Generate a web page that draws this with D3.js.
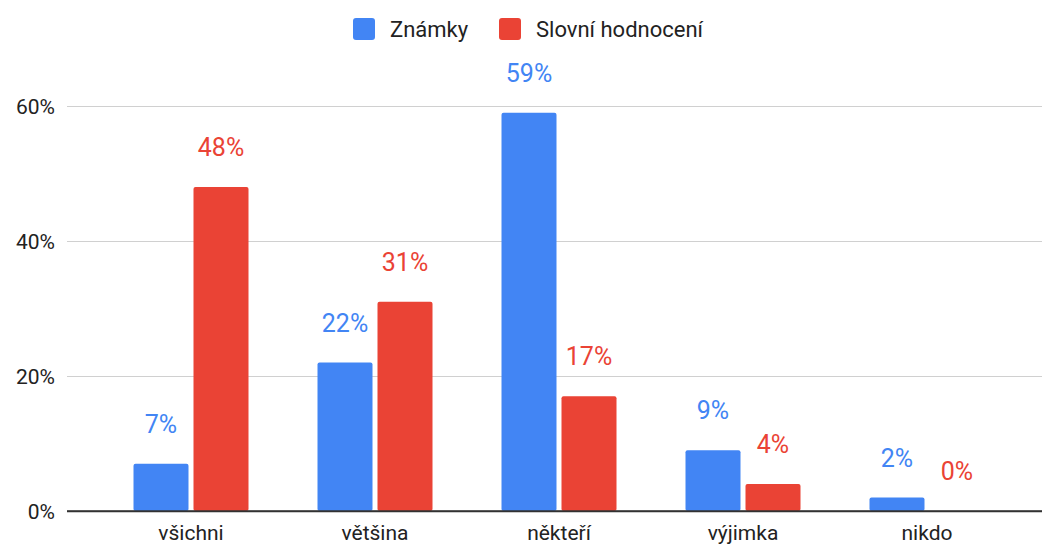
<!DOCTYPE html>
<html lang="cs">
<head>
    <meta charset="UTF-8">
    <title>Známky vs. slovní hodnocení</title>
    <script src="https://d3js.org/d3.v7.min.js"></script>
    <style>
        body { margin: 0; background: #fff; font-family: Roboto, "Noto Sans", sans-serif; }
    </style>
</head>
<body>
    <div id="chart"></div>

    <script>
        // data
        const categories = ["všichni", "většina", "někteří", "výjimka", "nikdo"];
        const seriesNames = ["Známky", "Slovní hodnocení"];
        const znamky = [7, 22, 59, 9, 2];
        const slovni = [48, 31, 17, 4, 0];
        const yTicks = [0, 20, 40, 60];
        const colors = ["#4285F4", "#EA4335"];

        const width = 1042, height = 545;

        const svg = d3.select("#chart")
            .append("svg")
            .attr("width", width)
            .attr("height", height);

        const x = d3.scaleBand()
            .domain(categories)
            .range([99, 1019])
            .paddingInner(0.375)
            .paddingOuter(0.1875);

        const xs = d3.scaleBand()
            .domain([0, 1])
            .range([0, x.bandwidth()])
            .paddingInner(5 / 60);

        const y = d3.scaleLinear()
            .domain([0, 60])
            .range([511, 106]);

        // gridlines + tick labels
        const yAxis = d3.axisLeft(y)
            .tickValues(yTicks)
            .tickSize(-(1042 - 67))
            .tickPadding(12)
            .tickFormat(d => d + "%");

        const gy = svg.append("g")
            .attr("transform", "translate(67,0)")
            .call(yAxis);
        gy.select(".domain").remove();
        gy.selectAll(".tick line")
            .attr("stroke", d => d === 0 ? "#333" : "#d0d0d0")
            .attr("stroke-width", d => d === 0 ? 1.5 : 1.2);
        gy.selectAll(".tick text")
            .attr("font-family", "Roboto, sans-serif")
            .attr("font-size", 21)
            .attr("fill", "#222")
            .attr("dy", "0.36em");

        // bars
        const rows = categories.map((c, i) => ({ cat: c, vals: [znamky[i], slovni[i]] }));

        const groups = svg.append("g")
            .selectAll("g")
            .data(rows)
            .join("g")
            .attr("transform", d => `translate(${x(d.cat)},0)`);

        groups.selectAll("rect")
            .data(d => d.vals.map((v, k) => ({ v, k })))
            .join("rect")
            .attr("x", d => xs(d.k))
            .attr("y", d => y(d.v))
            .attr("width", xs.bandwidth())
            .attr("height", d => y(0) - y(d.v))
            .attr("rx", 2)
            .attr("fill", d => colors[d.k]);

        groups.selectAll("text")
            .data(d => d.vals.map((v, k) => ({ v, k })))
            .join("text")
            .attr("x", d => xs(d.k) + xs.bandwidth() / 2)
            .attr("y", d => y(d.v) - 31)
            .attr("text-anchor", "middle")
            .attr("font-size", 25)
            .attr("fill", d => colors[d.k])
            .text(d => d.v + "%");

        // baseline on top of bars
        svg.append("line")
            .attr("x1", 67).attr("x2", 1042)
            .attr("y1", y(0)).attr("y2", y(0))
            .attr("stroke", "#333")
            .attr("stroke-width", 1.5);

        // category labels
        svg.append("g")
            .selectAll("text")
            .data(categories)
            .join("text")
            .attr("x", d => x(d) + x.bandwidth() / 2)
            .attr("y", 540)
            .attr("text-anchor", "middle")
            .attr("font-size", 21)
            .attr("fill", "#222")
            .text(d => d);

        // legend
        const legendX = [353, 499];
        const legend = svg.append("g")
            .selectAll("g")
            .data(seriesNames)
            .join("g")
            .attr("transform", (d, i) => `translate(${legendX[i]},18)`);
        legend.append("rect")
            .attr("width", 22).attr("height", 22)
            .attr("rx", 3)
            .attr("fill", (d, i) => colors[i]);
        legend.append("text")
            .attr("x", 37)
            .attr("y", 19)
            .attr("font-size", 22)
            .attr("fill", "#222")
            .text(d => d);
    </script>
</body>
</html>
